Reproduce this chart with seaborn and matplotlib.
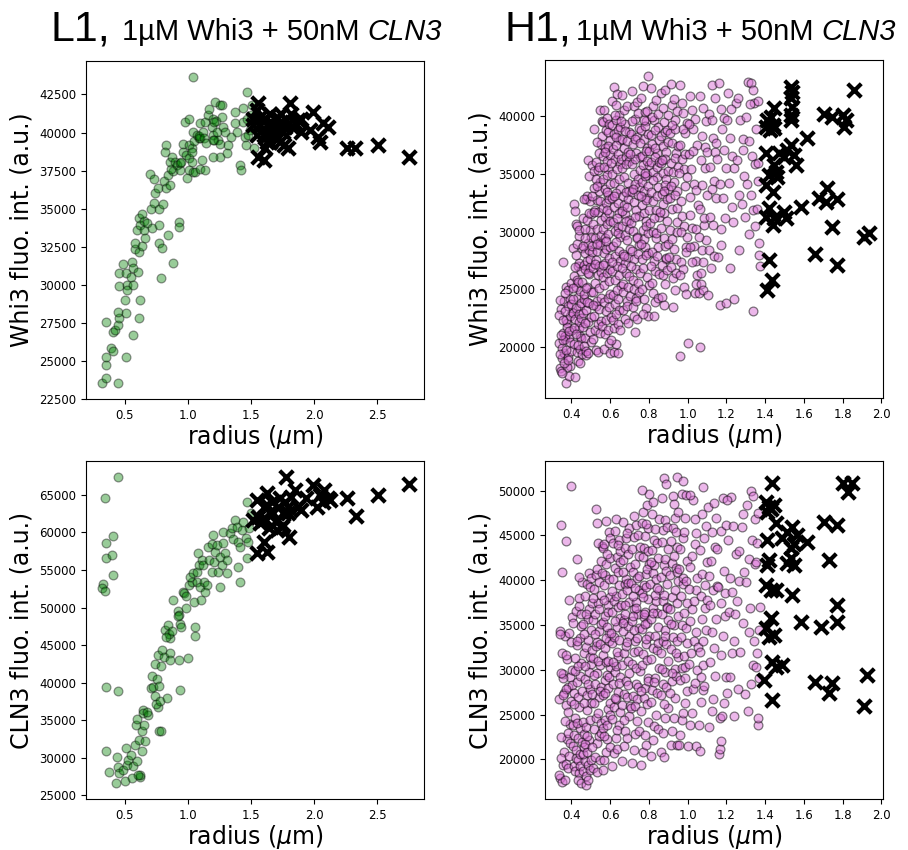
import matplotlib
matplotlib.use("Agg")
import matplotlib.pyplot as plt
from matplotlib.ticker import MultipleLocator
import seaborn as sns
import numpy as np

# ---------------- L1 data ----------------
l1_whi3_droplets = [
    (1.044,43660),(1.466,42675),(0.318,23530),(0.352,24733),(0.357,23860),(0.352,25280),(0.392,25830),(0.405,25650),
    (0.357,27578),(0.41,26920),(0.423,27030),(0.45,27360),(0.455,27800),(0.45,28235),(0.51,25280),(0.45,23530),
    (0.458,29920),(0.458,30750),(0.49,31340),(0.5,29000),(0.51,28120),(0.52,30000),(0.52,29670),(0.515,30750),
    (0.555,30530),(0.57,30000),(0.56,31515),(0.57,31080),(0.57,26700),(0.61,30860),(0.62,29000),(0.616,27800),
    (0.58,32330),(0.58,32720),(0.616,32130),(0.635,32570),(0.595,33600),(0.616,34360),(0.62,33920),(0.635,34620),
    (0.653,34180),(0.66,33050),(0.655,33600),(0.68,34030),(0.713,34970),(0.735,35350),(0.7,37300),(0.72,33700),
    (0.74,36000),(0.73,36940),(0.766,36370),(0.774,34970),(0.774,33920),(0.774,32720),(0.8,32430),(0.79,30420),
    (0.806,35300),(0.843,33270),(0.81,36800),(0.83,36330),(0.845,37200),(0.86,36550),(0.885,37470),(0.865,37580),
    (0.86,38080),(0.83,39170),(0.82,38740),(0.877,38410),(0.9,38040),(0.913,37860),(0.885,31400),(0.93,34140),
    (0.93,33800),(0.94,37530),(0.94,37970),(0.95,38080),(0.962,39280),(0.962,38740),(0.996,36990),(0.99,38520),
    (1.01,37530),(1.04,37420),(1.055,37420),(0.978,40700),(1.01,40920),(1.01,38300),(1.01,39170),(1.03,38960),
    (1.035,38080),(1.04,40050),(1.05,39440),(1.035,38740),(1.07,39830),(1.088,39610),(1.096,39610),(1.09,39760),
    (1.096,37630),(1.11,38230),(1.133,37530),(1.1,40600),(1.123,40050),(1.13,39610),(1.136,40700),(1.144,39290),
    (1.16,41140),(1.17,41580),(1.2,40920),(1.19,40380),(1.2,39830),(1.208,39500),(1.22,40770),(1.215,42020),
    (1.254,41800),(1.228,40050),(1.24,39500),(1.254,39280),(1.273,41840),(1.27,41030),(1.254,38400),(1.2,38400),
    (1.2,39500),(1.28,40380),(1.294,40050),(1.31,38630),(1.32,39170),(1.34,39720),(1.373,41360),(1.373,40600),
    (1.39,40050),(1.41,37860),(1.42,37530),(1.434,41630),(1.44,40710),(1.45,39720),(1.46,39170),(1.47,40920),
    (1.48,39830),(1.49,40160),(1.51,41800),(1.524,38960),(1.497,41140),(1.208,40700),
]
l1_whi3_large = [
    (1.558,41910),(1.545,41470),(1.6,40920),(1.571,40490),(1.518,40490),(1.6,38190),(1.558,38410),(1.624,39940),
    (1.624,39390),(1.65,41250),(1.664,40600),(1.677,39830),(1.703,41030),(1.716,40490),(1.73,39390),(1.74,41250),
    (1.756,40050),(1.76,39170),(1.78,40820),(1.795,38960),(1.81,41910),(1.82,41250),(1.85,40600),(1.87,40820),
    (1.9,40050),(1.9,40920),(1.967,40160),(1.993,41360),(2.03,39720),(2.046,39390),(2.07,40600),(2.11,40380),
    (2.257,38960),(2.323,38960),(2.508,39170),(2.753,38410),(1.677,40490),(1.69,40160),(1.624,40490),(1.6,39830),
    (1.65,39390),(1.74,40710),(1.77,40380),(1.835,40270),(1.716,39610),(1.518,40920),(1.571,41030),(1.545,39830),
    (1.61,38960),
]
l1_cln3_droplets = [
    (0.45,67440),(0.344,64650),(0.357,58570),(0.35,56660),(0.405,59590),(0.4,57020),(0.405,54360),(0.33,53110),
    (0.318,52580),(0.344,52270),(0.352,39410),(0.45,38920),(0.357,30850),(0.378,28060),(0.437,30100),(0.43,26640),
    (0.45,28720),(0.458,27970),(0.485,28410),(0.503,26860),(0.51,31290),(0.52,29080),(0.53,29750),(0.555,30410),
    (0.57,28850),(0.56,27300),(0.58,31740),(0.6,29610),(0.62,27390),(0.62,27750),(0.607,27750),(0.616,32410),
    (0.635,33510),(0.59,34400),(0.6,35200),(0.643,36300),(0.648,35950),(0.653,34400),(0.66,32180),(0.635,30850),
    (0.687,35730),(0.675,36040),(0.706,39280),(0.72,40830),(0.725,39360),(0.74,38170),(0.753,40520),(0.766,36710),
    (0.75,37150),(0.774,39500),(0.78,37590),(0.74,42510),(0.766,43710),(0.8,44290),(0.79,42200),(0.81,43360),
    (0.77,33510),(0.79,33600),(0.84,37950),(0.86,43930),(0.86,43050),(0.82,47040),(0.846,47620),(0.86,45930),
    (0.853,46460),(0.872,46820),(0.83,46020),(0.885,51030),(0.925,49480),(0.94,47790),(0.93,49030),(0.925,48820),
    (0.95,47480),(0.93,43050),(0.935,38970),(0.96,52140),(0.985,49920),(0.97,51960),(0.985,51520),(1.0,43270),
    (1.01,53030),(1.03,53470),(1.05,50720),(1.056,47480),(1.056,46150),(1.017,54130),(1.04,54580),(1.07,53470),
    (1.083,57240),(1.07,54800),(1.096,52800),(1.107,51030),(1.09,55690),(1.11,56350),(1.123,55690),(1.128,53470),
    (1.136,52010),(1.15,53030),(1.162,58130),(1.17,56350),(1.19,58440),(1.2,59680),(1.195,54800),(1.21,56040),
    (1.215,57460),(1.228,58350),(1.24,54800),(1.254,52800),(1.254,56800),(1.268,55690),(1.276,60120),(1.28,58570),
    (1.294,57240),(1.31,56350),(1.31,54580),(1.334,59990),(1.347,60650),(1.36,59150),(1.373,61670),(1.387,60790),
    (1.4,58790),(1.413,58130),(1.4,55470),(1.413,53470),(1.426,60350),(1.44,61450),(1.46,59240),(1.466,56660),
    (1.47,64110),(1.474,58790),(1.487,60570),(1.497,62560),
]
l1_cln3_large = [
    (1.777,67440),(1.545,64330),(1.624,65220),(1.558,62120),(1.518,61670),(1.545,57240),(1.624,57460),(1.6,58790),
    (1.64,60570),(1.677,62560),(1.698,61450),(1.716,63450),(1.73,64560),(1.756,61010),(1.77,64110),(1.795,62560),
    (1.8,59460),(1.82,64780),(1.85,65670),(1.875,63450),(1.9,63010),(1.94,64560),(1.993,66330),(2.02,63450),
    (2.05,65000),(2.078,65670),(2.067,64110),(2.11,64560),(2.125,64330),(2.26,64650),(2.33,62250),(2.508,65000),
    (2.753,66420),(1.6,61890),(1.65,62780),(1.571,61230),(1.756,62560),(1.795,63450),(1.703,60350),(1.624,63670),
    (1.664,64110),(1.6,63450),(1.743,60790),
]

# ---------------- H1 data ----------------
h1_whi3_droplets = [
    (0.342,18150),(0.351,19020),(0.338,20310),(0.356,21240),(0.363,19480),(0.347,17920),(0.372,16880),(0.368,20650),
    (0.381,19130),(0.377,22080),(0.392,18390),(0.386,20870),(0.349,23250),(0.337,22810),(0.361,23940),(0.373,25180),
    (0.384,24960),(0.358,27330),(0.395,24130),(0.401,23020),(0.404,21470),(0.353,19910),(0.366,20920),(0.375,18270),
    (0.389,17490),(0.397,19630),(0.344,19380),(0.359,20570),(0.371,22340),(0.383,23520),(0.394,22690),(0.365,24700),
    (0.378,21770),(0.391,20420),(0.399,25510),(0.352,17710),(0.361,18620),(0.346,21060),(0.369,23120),(0.382,18890),
    (0.355,22350),(0.374,19780),(0.388,21410),(0.341,24050),(0.396,23760),
    (0.412,32380),(0.418,31790),(0.423,30680),(0.409,28540),(0.432,27020),(0.441,27260),(0.414,26180),(0.426,25230),
    (0.435,24330),(0.446,23580),(0.408,22980),(0.421,22420),(0.437,21680),(0.443,20960),(0.416,20280),(0.428,19540),
    (0.433,18790),(0.447,19860),(0.452,20740),(0.419,17420),(0.431,25840),(0.444,24870),(0.449,26610),(0.411,24190),
    (0.424,23340),(0.438,22870),(0.442,22120),(0.451,23820),(0.455,28610),(0.439,29640),(0.427,28930),(0.417,26940),
    (0.413,21620),(0.434,20130),(0.445,18610),(0.453,19420),(0.448,22530),(0.422,27990),(0.436,25640),(0.429,30470),
    (0.406,25150),(0.425,21090),(0.44,30150),
    (0.462,21730),(0.471,20790),(0.478,19340),(0.458,22910),(0.467,24120),(0.483,25180),(0.491,26320),(0.464,27090),
    (0.473,28140),(0.486,29030),(0.494,30120),(0.461,31170),(0.476,32820),(0.482,33090),(0.497,32610),(0.503,31480),
    (0.457,25620),(0.469,26740),(0.481,27470),(0.493,28380),(0.499,29510),(0.466,24590),(0.474,23230),(0.488,22160),
    (0.496,21290),(0.502,20420),(0.485,36170),(0.492,34790),(0.505,35720),(0.472,30190),(0.479,30980),(0.489,23810),
    (0.501,24760),(0.498,26930),(0.463,20120),(0.475,19610),(0.487,19450),(0.504,22630),(0.481,23920),(0.468,29420),
    (0.459,28770),(0.495,27640),(0.507,28190),(0.484,26410),(0.477,25130),(0.465,32840),(0.49,31620),(0.47,22070),
    (0.512,30620),(0.521,31870),(0.533,32740),(0.541,33480),(0.548,34310),(0.515,35240),(0.526,36010),(0.537,35290),
    (0.544,36830),(0.552,37590),(0.509,28740),(0.523,29470),(0.531,30240),(0.546,29080),(0.553,31020),(0.514,26810),
    (0.527,27540),(0.535,28320),(0.542,27010),(0.549,28870),(0.511,24720),(0.524,25560),(0.538,26240),(0.545,25110),
    (0.554,26520),(0.516,22690),(0.528,23510),(0.534,24020),(0.543,23280),(0.551,24230),(0.513,20710),(0.522,21490),
    (0.536,22030),(0.547,21180),(0.555,22290),(0.525,19720),(0.539,19530),(0.556,38310),(0.532,37720),(0.519,33810),
    (0.508,33040),(0.54,31710),(0.55,32620),(0.529,34520),(0.518,38920),(0.557,39540),(0.547,40520),(0.53,28910),
    (0.517,31690),(0.553,29740),(0.52,27210),(0.545,35620),(0.535,33900),(0.51,23600),
    (0.562,39480),(0.571,40510),(0.578,38790),(0.586,39870),(0.597,37920),(0.561,36510),(0.573,37190),(0.582,36140),
    (0.589,35380),(0.598,36620),(0.564,34570),(0.572,33720),(0.583,34890),(0.591,33170),(0.599,34130),(0.566,32010),
    (0.574,31280),(0.579,32510),(0.592,31640),(0.596,32830),(0.563,30190),(0.576,29430),(0.584,30620),(0.588,29820),
    (0.601,30870),(0.568,28130),(0.575,27310),(0.581,28480),(0.594,27730),(0.597,28690),(0.565,26020),(0.569,25330),
    (0.585,26410),(0.593,25680),(0.602,26790),(0.567,23910),(0.577,23130),(0.587,24280),(0.595,23490),(0.6,24620),
    (0.56,21780),(0.574,21130),(0.58,22320),(0.59,21510),(0.603,22570),(0.57,19830),(0.592,20330),(0.599,19520),
    (0.583,33380),(0.57,35620),(0.589,37410),(0.564,27080),(0.58,29210),(0.596,39280),(0.59,38610),(0.576,36900),
    (0.585,31900),
    (0.612,41270),(0.621,42480),(0.628,40930),(0.637,41880),(0.648,40120),(0.609,39230),(0.618,38410),(0.633,39620),
    (0.641,38770),(0.652,37940),(0.613,37140),(0.624,36290),(0.631,37520),(0.643,36710),(0.649,35830),(0.611,34980),
    (0.622,34240),(0.636,35420),(0.644,34580),(0.651,33720),(0.608,32910),(0.619,32130),(0.629,33310),(0.639,32480),
    (0.647,31640),(0.614,30810),(0.626,30020),(0.634,31180),(0.642,30390),(0.653,29540),(0.616,28720),(0.623,27880),
    (0.632,29130),(0.645,28310),(0.65,27430),(0.61,26570),(0.627,25840),(0.638,26980),(0.646,26230),(0.654,25290),
    (0.617,24480),(0.625,23720),(0.635,24910),(0.64,24120),(0.648,23190),(0.615,22370),(0.62,21620),(0.63,22840),
    (0.643,21970),(0.652,21480),(0.622,19580),(0.641,19510),(0.633,20230),(0.607,20640),(0.655,36310),(0.628,38220),
    (0.618,33060),(0.639,29910),(0.612,27370),(0.651,39040),(0.604,35900),(0.625,40100),
    (0.662,41820),(0.671,40560),(0.678,39280),(0.686,40870),(0.697,38640),(0.661,38050),(0.673,37230),(0.682,36480),
    (0.689,37840),(0.698,36120),(0.664,35470),(0.672,34690),(0.683,35830),(0.691,34210),(0.699,33540),(0.666,33080),
    (0.674,32260),(0.679,31540),(0.692,32810),(0.696,31020),(0.663,30470),(0.676,29690),(0.684,30870),(0.688,29240),
    (0.701,28510),(0.668,28010),(0.675,27260),(0.681,26430),(0.694,27780),(0.697,26120),(0.665,25480),(0.669,24730),
    (0.685,23960),(0.693,25220),(0.702,24410),(0.667,23170),(0.677,22380),(0.687,23590),(0.695,22070),(0.67,27900),
    (0.659,31800),(0.68,33400),(0.69,36900),(0.658,39600),(0.675,38700),(0.685,32100),(0.66,26800),(0.7,30200),
    (0.712,42160),(0.721,40890),(0.728,39710),(0.737,41230),(0.748,38960),(0.709,38420),(0.718,37580),(0.733,36830),
    (0.741,38190),(0.752,36440),(0.713,35860),(0.724,35010),(0.731,36270),(0.743,34530),(0.749,33890),(0.711,33420),
    (0.722,32590),(0.736,31870),(0.744,33140),(0.751,31330),(0.708,30780),(0.719,30010),(0.729,31220),(0.739,29550),
    (0.747,28820),(0.714,28330),(0.726,27590),(0.734,26760),(0.742,28080),(0.753,26440),(0.716,25770),(0.723,25010),
    (0.732,24280),(0.745,25560),(0.75,24730),(0.717,23480),(0.725,22710),(0.735,23940),(0.74,22390),(0.727,21290),
    (0.73,34100),(0.715,39600),(0.746,40300),(0.72,33700),(0.738,29400),(0.71,27000),(0.754,35300),(0.705,36700),
    (0.73,38000),
    (0.762,41570),(0.771,42640),(0.778,40380),(0.786,39560),(0.797,43480),(0.761,38830),(0.773,37990),(0.782,39120),
    (0.789,37260),(0.798,38470),(0.764,36540),(0.772,35720),(0.783,36980),(0.791,34910),(0.799,35780),(0.766,34260),
    (0.774,33480),(0.779,34820),(0.792,32870),(0.796,33940),(0.763,32330),(0.776,31560),(0.784,32740),(0.788,30880),
    (0.801,31820),(0.768,30130),(0.775,29380),(0.781,28640),(0.794,29860),(0.797,28120),(0.765,27610),(0.769,26840),
    (0.785,27930),(0.793,26070),(0.802,25410),(0.767,24980),(0.777,24170),(0.787,23380),(0.795,22660),(0.77,22830),
    (0.758,28900),(0.78,35100),(0.79,40400),(0.76,33100),(0.775,39700),(0.8,37000),(0.785,30500),(0.757,37700),
    (0.79,36100),
    (0.812,42410),(0.821,40870),(0.828,39640),(0.837,41380),(0.848,39020),(0.809,38360),(0.818,37540),(0.833,38810),
    (0.841,36790),(0.852,37920),(0.813,35980),(0.824,35160),(0.831,36420),(0.843,34680),(0.849,33870),(0.811,33410),
    (0.822,32620),(0.836,31830),(0.844,33050),(0.851,31270),(0.808,30740),(0.819,29960),(0.829,31180),(0.839,29420),
    (0.847,28680),(0.814,28210),(0.826,27440),(0.834,26620),(0.842,27890),(0.853,26280),(0.816,25560),(0.823,24710),
    (0.832,23870),(0.845,24280),(0.827,22720),(0.82,34500),(0.84,35600),(0.815,39900),(0.83,37200),(0.846,40200),
    (0.81,27000),(0.835,29900),(0.85,36000),
    (0.862,41990),(0.871,40720),(0.878,39490),(0.886,42270),(0.897,40050),(0.861,38270),(0.873,37410),(0.882,38640),
    (0.889,36850),(0.898,37780),(0.864,35930),(0.872,35070),(0.883,36290),(0.891,34520),(0.899,33690),(0.866,33220),
    (0.874,32380),(0.879,31580),(0.892,32790),(0.896,30940),(0.863,30330),(0.876,29480),(0.884,28720),(0.888,27660),
    (0.901,28930),(0.868,27120),(0.875,26230),(0.881,25480),(0.894,26700),(0.867,24360),(0.877,23670),(0.887,27720),
    (0.885,34000),(0.87,36200),(0.895,38800),(0.86,31700),(0.88,33500),(0.9,35200),
    (0.912,42780),(0.921,40930),(0.928,41520),(0.937,39680),(0.948,40470),(0.909,38530),(0.918,37690),(0.933,38860),
    (0.941,36820),(0.952,37370),(0.913,35940),(0.924,35120),(0.931,34280),(0.943,33470),(0.949,35630),(0.911,32860),
    (0.922,31990),(0.936,33120),(0.944,30860),(0.908,30140),(0.919,29320),(0.929,28460),(0.939,27580),(0.947,29970),
    (0.914,26890),(0.926,25980),(0.934,24960),(0.942,26370),(0.927,23450),(0.917,33900),(0.935,36400),(0.92,39200),
    (0.945,32000),(0.905,27800),
    (0.962,42690),(0.971,41120),(0.978,40230),(0.986,38560),(0.997,39420),(0.961,37510),(0.973,36240),(0.982,35380),
    (0.989,33960),(0.998,34710),(0.964,32640),(0.972,31350),(0.983,30470),(0.991,28690),(0.999,29540),(0.966,27380),
    (0.974,26710),(0.981,25230),(0.994,24630),(0.963,26230),(0.959,19180),(0.976,38900),(0.955,35100),(0.968,30000),
    (0.985,36700),(0.993,28200),
    (1.003,20380),(1.012,41780),(1.021,40490),(1.028,38920),(1.037,39760),(1.048,37450),(1.009,36680),(1.018,35390),
    (1.033,34120),(1.041,33560),(1.052,32280),(1.013,31470),(1.024,30330),(1.031,28740),(1.043,27410),(1.049,26210),
    (1.011,28620),(1.022,27380),(1.036,24650),(1.044,25480),(1.027,37000),(1.015,33000),(1.045,30200),(1.005,39300),
    (1.062,19970),(1.058,24680),(1.071,25440),(1.078,24960),(1.069,26420),(1.082,27330),(1.063,41760),(1.081,40720),
    (1.096,39530),(1.073,38240),(1.088,37310),(1.067,36160),(1.091,35480),(1.075,34020),(1.098,33170),(1.066,31940),
    (1.084,30560),(1.094,29270),(1.072,28410),(1.087,31200),(1.1,36900),(1.057,29500),
    (1.112,40180),(1.124,39640),(1.131,38130),(1.142,36870),(1.118,35620),(1.136,34390),(1.126,33640),(1.145,32910),
    (1.115,31300),(1.133,30530),(1.109,28370),(1.121,26810),(1.141,41560),(1.128,42730),(1.148,37700),(1.105,24500),
    (1.138,27900),
    (1.162,42830),(1.171,40650),(1.178,38910),(1.186,37080),(1.197,35460),(1.168,34140),(1.183,32880),(1.191,31170),
    (1.174,30260),(1.158,27790),(1.165,23620),(1.196,23790),(1.188,39800),(1.153,36300),(1.175,28800),
    (1.206,39640),(1.218,38140),(1.227,36580),(1.238,35530),(1.213,34210),(1.232,32140),(1.242,24160),(1.221,26830),
    (1.248,41120),(1.211,42040),(1.235,30800),(1.225,40600),
    (1.262,41590),(1.273,39640),(1.284,38020),(1.256,36180),(1.291,34840),(1.268,33160),(1.281,32410),(1.295,31230),
    (1.288,37100),(1.265,28400),
    (1.311,42910),(1.328,42880),(1.337,42270),(1.342,41160),(1.322,41080),(1.303,39920),(1.318,37840),(1.332,36500),
    (1.346,35880),(1.308,34130),(1.326,33170),(1.338,31840),(1.349,30450),(1.315,29810),(1.366,35900),(1.362,34350),
    (1.369,29040),(1.371,27950),(1.373,26970),(1.338,23090),(1.359,31920),(1.352,38900),(1.365,41300),
]
h1_whi3_large = [
    (1.532,42540),(1.54,42110),(1.532,41530),(1.54,40810),(1.532,40090),(1.532,39650),(1.859,42250),(1.446,40660),
    (1.412,39650),(1.43,39940),(1.44,39220),(1.403,39075),(1.425,38800),(1.446,38930),(1.704,40140),(1.747,39940),
    (1.8,40090),(1.816,39650),(1.807,39075),(1.618,38120),(1.403,36760),(1.47,36760),(1.515,37050),(1.532,37490),
    (1.55,36620),(1.558,35750),(1.497,36470),(1.446,35750),(1.455,35170),(1.42,34890),(1.463,34750),(1.403,34020),
    (1.44,33440),(1.42,32000),(1.403,31270),(1.446,31130),(1.44,30550),(1.497,31710),(1.506,31130),(1.585,32140),
    (1.68,32860),(1.721,33730),(1.713,32570),(1.773,32800),(1.747,30410),(1.91,29540),(1.936,29830),(1.66,28090),
    (1.773,27080),(1.42,27520),(1.437,25780),(1.412,24910),
]
h1_cln3_droplets = [
    (0.342,17920),(0.351,17430),(0.338,18210),(0.356,19350),(0.363,20870),(0.347,20110),(0.372,19460),(0.368,17710),
    (0.381,18980),(0.377,22240),(0.392,21860),(0.386,20380),(0.349,22470),(0.337,26690),(0.361,27360),(0.373,26010),
    (0.384,28120),(0.358,29480),(0.395,29210),(0.401,30010),(0.404,28330),(0.353,31840),(0.366,33760),(0.375,31190),
    (0.389,34120),(0.397,33060),(0.344,34380),(0.359,29120),(0.371,27820),(0.383,25320),(0.394,23940),(0.348,46210),
    (0.372,44420),(0.354,40970),(0.397,50480),(0.388,37780),(0.405,35880),(0.346,29690),(0.369,24260),(0.382,22960),
    (0.355,27230),(0.374,31700),(0.341,34010),(0.396,26500),
    (0.412,19230),(0.418,18710),(0.423,20150),(0.409,21540),(0.432,19960),(0.441,18420),(0.414,22730),(0.426,21080),
    (0.435,22410),(0.446,20640),(0.408,23870),(0.421,24610),(0.437,25860),(0.443,23480),(0.416,27440),(0.428,28670),
    (0.433,26950),(0.447,29330),(0.452,30780),(0.419,31320),(0.431,32810),(0.444,33560),(0.449,34930),(0.411,35210),
    (0.424,36570),(0.438,37140),(0.442,38060),(0.451,36210),(0.455,39840),(0.439,40320),(0.427,33240),(0.417,29870),
    (0.413,26130),(0.434,17740),(0.445,19280),(0.453,21910),(0.448,17310),(0.428,42380),(0.436,30440),(0.429,24020),
    (0.462,18660),(0.471,19820),(0.478,18130),(0.458,20580),(0.467,21370),(0.483,20790),(0.491,22110),(0.464,22880),
    (0.473,21730),(0.486,19410),(0.494,18780),(0.461,24210),(0.476,23560),(0.482,25470),(0.497,24380),(0.503,26240),
    (0.457,27610),(0.469,28930),(0.481,27150),(0.493,29740),(0.499,30620),(0.466,31880),(0.474,32550),(0.488,33270),
    (0.496,31430),(0.502,34460),(0.485,35720),(0.492,36840),(0.505,37510),(0.472,38290),(0.479,39610),(0.489,40760),
    (0.501,40240),(0.498,39280),(0.463,26330),(0.475,17120),(0.487,17650),(0.504,19940),(0.481,22620),(0.468,30370),
    (0.459,35110),(0.495,27850),(0.507,32180),(0.484,28440),(0.477,36230),(0.465,33980),
    (0.512,19040),(0.521,20270),(0.533,21860),(0.541,22630),(0.548,19870),(0.515,23340),(0.526,24580),(0.537,25160),
    (0.544,26910),(0.552,24030),(0.509,27270),(0.523,28420),(0.531,29680),(0.546,30510),(0.553,28060),(0.514,31260),
    (0.527,32640),(0.535,33110),(0.542,34350),(0.549,32870),(0.511,35540),(0.524,36280),(0.538,37460),(0.545,36790),
    (0.554,38310),(0.516,39070),(0.528,40540),(0.534,41280),(0.543,39820),(0.551,42160),(0.513,37960),(0.522,34030),
    (0.536,30980),(0.547,27660),(0.555,22950),(0.525,47980),(0.532,46390),(0.556,43860),(0.519,26270),(0.508,21420),
    (0.54,44150),(0.53,18540),(0.553,35080),(0.518,29370),
    (0.562,18810),(0.571,19960),(0.578,20840),(0.586,22270),(0.597,21340),(0.561,23520),(0.573,24440),(0.582,23780),
    (0.589,25620),(0.598,26330),(0.564,27180),(0.572,28810),(0.583,29430),(0.591,27960),(0.599,30280),(0.566,31640),
    (0.574,32470),(0.579,30870),(0.592,33190),(0.596,34080),(0.563,35360),(0.576,36020),(0.584,34740),(0.588,37280),
    (0.601,38110),(0.568,39430),(0.575,40620),(0.581,41770),(0.594,40180),(0.597,42510),(0.565,43630),(0.569,44080),
    (0.585,42940),(0.593,45370),(0.602,44720),(0.567,37830),(0.577,33520),(0.587,31030),(0.595,29180),(0.6,24970),
    (0.56,40850),(0.574,27430),(0.58,46600),(0.59,36500),(0.57,22600),
    (0.612,19280),(0.621,20670),(0.628,22340),(0.637,21150),(0.648,23860),(0.609,24510),(0.618,25870),(0.633,26720),
    (0.641,27490),(0.652,25230),(0.613,28360),(0.624,29750),(0.631,30420),(0.643,31580),(0.649,29160),(0.611,32940),
    (0.622,33610),(0.636,34780),(0.644,33270),(0.651,35820),(0.608,36440),(0.619,37670),(0.629,38280),(0.639,36980),
    (0.647,39520),(0.614,40180),(0.626,41350),(0.634,42610),(0.642,40970),(0.653,43270),(0.616,44120),(0.623,45460),
    (0.632,46780),(0.645,44530),(0.65,42080),(0.61,38850),(0.627,35470),(0.638,31990),(0.646,28470),(0.654,37260),
    (0.617,30870),(0.625,26840),(0.635,23290),(0.64,43900),(0.605,34120),
    (0.662,19840),(0.671,21480),(0.678,23170),(0.686,22420),(0.697,24830),(0.661,26060),(0.673,27340),(0.682,28750),
    (0.689,27010),(0.698,29680),(0.664,30520),(0.672,31870),(0.683,32640),(0.691,30930),(0.699,33740),(0.666,34380),
    (0.674,35510),(0.679,36240),(0.692,34870),(0.696,37550),(0.663,38470),(0.676,39620),(0.684,40180),(0.688,38910),
    (0.701,41430),(0.668,42250),(0.675,43570),(0.681,44690),(0.694,42940),(0.697,45880),(0.665,46530),(0.669,35220),
    (0.685,33070),(0.693,28340),(0.702,25940),(0.667,40870),(0.677,37190),(0.687,45270),(0.695,39740),(0.67,24350),
    (0.712,19630),(0.721,21040),(0.728,22870),(0.737,24320),(0.748,23150),(0.709,25760),(0.718,27090),(0.733,28430),
    (0.741,26680),(0.752,29870),(0.713,30680),(0.724,31940),(0.731,33260),(0.743,32070),(0.749,34640),(0.711,35420),
    (0.722,36780),(0.736,37540),(0.744,36180),(0.751,38930),(0.708,39670),(0.719,40940),(0.729,41810),(0.739,40260),
    (0.747,42740),(0.714,43530),(0.726,44780),(0.734,46140),(0.742,45020),(0.753,43680),(0.716,35960),(0.723,34410),
    (0.732,30220),(0.745,28040),(0.75,40430),(0.717,38210),(0.725,47220),(0.735,36850),(0.74,33500),(0.727,25980),
    (0.73,39100),
    (0.762,19420),(0.771,20870),(0.778,22710),(0.786,21560),(0.797,24180),(0.761,25430),(0.773,26870),(0.782,27940),
    (0.789,26210),(0.798,29130),(0.764,30480),(0.772,31720),(0.783,32860),(0.791,31140),(0.799,33780),(0.766,34520),
    (0.774,35860),(0.779,36490),(0.792,35270),(0.796,37930),(0.763,38610),(0.776,39480),(0.784,40710),(0.788,39240),
    (0.801,41860),(0.768,42570),(0.775,43620),(0.781,44930),(0.794,43210),(0.797,45820),(0.765,46440),(0.769,47620),
    (0.785,46280),(0.793,48370),(0.802,49610),(0.767,50020),(0.777,36250),(0.787,33430),(0.795,28720),(0.77,38100),
    (0.79,41200),(0.758,27600),(0.78,35100),
    (0.812,20390),(0.821,22160),(0.828,23740),(0.837,24960),(0.848,23410),(0.809,26380),(0.818,27720),(0.833,29040),
    (0.841,27360),(0.852,30250),(0.813,31170),(0.824,32480),(0.831,33790),(0.843,32160),(0.849,34820),(0.811,35640),
    (0.822,36910),(0.836,37680),(0.844,36340),(0.851,38860),(0.808,39540),(0.819,40830),(0.829,41660),(0.839,40190),
    (0.847,42470),(0.814,43380),(0.826,44520),(0.834,45690),(0.842,44170),(0.853,46850),(0.816,47360),(0.823,48720),
    (0.832,38330),(0.845,33040),(0.827,28610),(0.82,36300),(0.84,39100),(0.81,42000),
    (0.862,20860),(0.871,22940),(0.878,20270),(0.886,24610),(0.897,25760),(0.861,27130),(0.873,28460),(0.882,29780),
    (0.889,28120),(0.898,31030),(0.864,31840),(0.872,33170),(0.883,34490),(0.891,32860),(0.899,35560),(0.866,36280),
    (0.874,37640),(0.879,38370),(0.892,37010),(0.896,39590),(0.863,40310),(0.876,41660),(0.884,42380),(0.888,41040),
    (0.901,43520),(0.868,44210),(0.875,45560),(0.881,46740),(0.894,45930),(0.867,49180),(0.877,51460),(0.887,50710),
    (0.885,33800),(0.87,30100),(0.895,36900),(0.88,26200),
    (0.912,21620),(0.921,23140),(0.928,24570),(0.937,26810),(0.948,21570),(0.909,27460),(0.918,28790),(0.933,30120),
    (0.941,29340),(0.952,31460),(0.913,32280),(0.924,33610),(0.931,34950),(0.943,33210),(0.949,36020),(0.911,36740),
    (0.922,38080),(0.936,38870),(0.944,37420),(0.951,39960),(0.908,40630),(0.919,41870),(0.929,42690),(0.939,41380),
    (0.947,43740),(0.914,44410),(0.926,45780),(0.934,46920),(0.942,45330),(0.953,47610),(0.927,49370),(0.946,51480),
    (0.932,48520),(0.917,35100),(0.938,31900),(0.92,29600),(0.945,40900),
    (0.962,22760),(0.971,24380),(0.978,25130),(0.986,26240),(0.997,27590),(0.961,28820),(0.973,30170),(0.982,31580),
    (0.989,30260),(0.998,32940),(0.964,33710),(0.972,35040),(0.983,36350),(0.991,34620),(0.999,37480),(0.966,38230),
    (0.974,39560),(0.979,40280),(0.992,39870),(0.996,42120),(0.963,43460),(0.976,44730),(0.984,45380),(0.988,46910),
    (0.969,49640),(0.994,49460),(0.975,51080),(0.985,29100),(0.958,41200),(0.955,21600),
    (1.003,21480),(1.012,23790),(1.021,25120),(1.028,27830),(1.037,28560),(1.048,29930),(1.009,30640),(1.018,31870),
    (1.033,33240),(1.041,34180),(1.052,32570),(1.013,35390),(1.024,36780),(1.031,37640),(1.043,38950),(1.049,40260),
    (1.011,41480),(1.022,42730),(1.036,44060),(1.044,45320),(1.027,48950),(1.015,49480),(1.045,21470),(1.005,39000),
    (1.039,46800),
    (1.062,20970),(1.058,23870),(1.071,26380),(1.078,27740),(1.069,29210),(1.082,30480),(1.063,31940),(1.081,33170),
    (1.096,34420),(1.073,35630),(1.088,36870),(1.067,38240),(1.091,39450),(1.075,40720),(1.098,42070),(1.066,43360),
    (1.084,44680),(1.094,46010),(1.072,47360),(1.079,50460),(1.087,28200),(1.1,37800),
    (1.112,23640),(1.124,25370),(1.131,26720),(1.142,29280),(1.118,30840),(1.136,32390),(1.126,34180),(1.145,35620),
    (1.115,37280),(1.133,38870),(1.109,40420),(1.121,42150),(1.141,43760),(1.128,45380),(1.148,46970),(1.105,48220),
    (1.138,48630),(1.152,39400),
    (1.162,20620),(1.168,21140),(1.171,22030),(1.166,24560),(1.178,24870),(1.186,26330),(1.197,29180),(1.173,31650),
    (1.183,33740),(1.191,35960),(1.174,37410),(1.158,39270),(1.188,41040),(1.153,43520),(1.175,45470),(1.181,49210),
    (1.196,46180),(1.192,38600),
    (1.206,27460),(1.218,29150),(1.227,31840),(1.238,33160),(1.213,36420),(1.232,38640),(1.242,24790),(1.221,40250),
    (1.248,42960),(1.211,44470),(1.235,46030),(1.225,49320),(1.204,48930),(1.246,36200),
    (1.262,27840),(1.273,32010),(1.284,35230),(1.256,37680),(1.291,40870),(1.268,43260),(1.281,45910),(1.295,27320),
    (1.288,47380),(1.265,39900),
    (1.311,25340),(1.328,28420),(1.337,30570),(1.342,33180),(1.322,36940),(1.303,39760),(1.318,42370),(1.332,44520),
    (1.346,46880),(1.308,48410),(1.326,49960),(1.338,49380),(1.349,41860),(1.315,34270),(1.366,23780),(1.362,24600),
    (1.369,29030),(1.371,34460),(1.373,37020),(1.358,44160),(1.359,31920),(1.352,42060),(1.365,47540),(1.355,30300),
]
h1_cln3_large = [
    (1.437,50820),(1.8,50820),(1.85,50820),(1.827,49890),(1.403,48770),(1.42,48210),(1.446,48400),(1.412,47650),
    (1.43,47900),(1.455,46350),(1.704,46540),(1.773,46170),(1.54,45980),(1.515,45420),(1.567,45050),(1.49,44680),
    (1.412,44490),(1.618,44300),(1.55,44000),(1.532,43560),(1.532,42450),(1.515,41890),(1.55,41700),(1.42,42260),
    (1.412,41700),(1.73,42260),(1.403,39470),(1.43,38910),(1.455,38910),(1.54,38350),(1.584,35370),(1.687,34810),
    (1.773,37230),(1.773,35370),(1.43,35740),(1.403,34630),(1.42,33700),(1.446,33890),(1.437,30900),(1.455,30350),
    (1.49,30530),(1.394,28860),(1.66,28670),(1.747,28480),(1.73,27370),(1.437,26630),(1.928,29420),(1.91,25990),
]

panels = [
    (l1_whi3_droplets, l1_whi3_large, "Whi3 fluo. int. (a.u.)", "green", 0.4, (0.195, 2.87), (22500, 44700), 2500),
    (h1_whi3_droplets, h1_whi3_large, "Whi3 fluo. int. (a.u.)", "orchid", 0.5, (0.264, 2.009), (15580, 44855), 5000),
    (l1_cln3_droplets, l1_cln3_large, "CLN3 fluo. int. (a.u.)", "green", 0.4, (0.195, 2.87), (24510, 69520), 5000),
    (h1_cln3_droplets, h1_cln3_large, "CLN3 fluo. int. (a.u.)", "orchid", 0.5, (0.264, 2.009), (15570, 53310), 5000),
]

W, H = 908, 850
fig = plt.figure(figsize=(W / 100, H / 100), dpi=100)
rects = [
    [86 / W, (H - 399) / H, 338 / W, 338 / H],
    [545 / W, (H - 398) / H, 338 / W, 338 / H],
    [86 / W, (H - 799) / H, 338 / W, 338 / H],
    [545 / W, (H - 799) / H, 338 / W, 338 / H],
]

for rect, (small, large, ylabel, col, alpha, xlim, ylim, ystep) in zip(rects, panels):
    ax = fig.add_axes(rect)
    sx, sy = zip(*small)
    lx, ly = zip(*large)
    sns.scatterplot(x=list(sx), y=list(sy), ax=ax, color=col, alpha=alpha,
                    edgecolor="black", s=40, linewidth=0.9, zorder=2)
    sns.scatterplot(x=list(lx), y=list(ly), ax=ax, marker="x", color="black",
                    s=95, linewidth=3, zorder=3)
    ax.set_xlim(*xlim)
    ax.set_ylim(*ylim)
    ax.yaxis.set_major_locator(MultipleLocator(ystep))
    ax.set_xlabel("radius ($\\mu$m)", fontsize=17, labelpad=1)
    ax.set_ylabel(ylabel, fontsize=17)
    ax.tick_params(labelsize=8.5)

# titles
renderer = fig.canvas.get_renderer()
for x0, name in [(50, "L1,"), (504, "H1,")]:
    yb = 1 - 40 / H
    fig.text(x0 / W, yb, name, fontsize=31, family="Liberation Sans", va="baseline")
    t = fig.text((x0 + 72) / W, yb, "1\u00b5M Whi3 + 50nM ", fontsize=21,
                 family="Liberation Sans", va="baseline")
    bb = t.get_window_extent(renderer=renderer)
    fig.text(bb.x1 / W, yb, "CLN3", fontsize=21, family="Liberation Sans",
             style="italic", va="baseline")

fig.savefig("out.png", dpi=100)
